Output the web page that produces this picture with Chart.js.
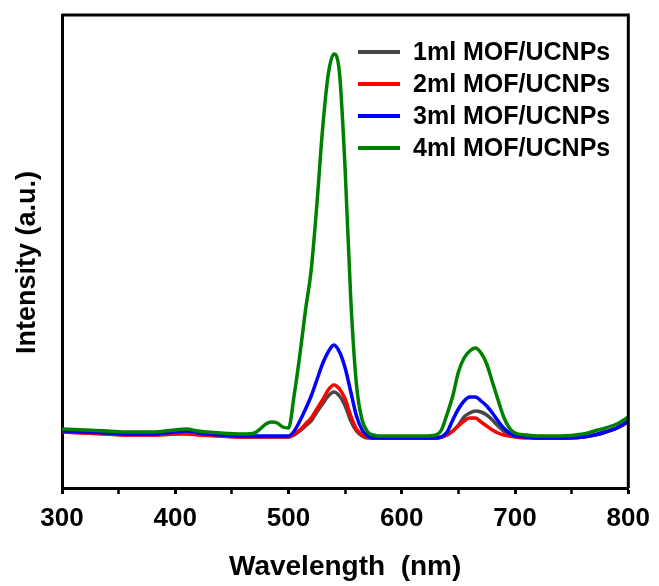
<!DOCTYPE html>
<html>
<head>
<meta charset="utf-8">
<script src="https://cdn.jsdelivr.net/npm/chart.js@4"></script>
<style>
  html, body { margin: 0; padding: 0; background: #fff; }
</style>
</head>
<body>
<canvas id="myChart" width="659" height="586"></canvas>
<script>
let wavelengths = [
    300, 320, 340, 360, 380, 400, 410, 420, 440, 460, 470, 475, 480, 485, 490, 495,
    500, 505, 510, 515, 520, 525, 530, 535, 540, 545, 550, 555, 560, 565, 570, 575,
    580, 600, 620, 630, 635, 640, 645, 650, 655, 660, 665, 670, 675, 680, 685, 690,
    695, 700, 710, 720, 740, 760, 770, 780, 790, 800
];

let labels = [
    '1ml MOF/UCNPs',
    '2ml MOF/UCNPs',
    '3ml MOF/UCNPs',
    '4ml MOF/UCNPs',
];

let colors = [
    '#474747',
    '#ff0000',
    '#0000ff',
    '#008000',
];

let ml1 = [
    56, 55, 54, 53, 53, 54, 55, 54, 52, 51, 51, 51, 51, 51, 51, 51,
    51, 53, 57, 62, 67, 76, 84, 92, 96, 92, 82, 67, 57, 52, 50, 50,
    50, 50, 50, 50, 51, 53, 57, 63, 71, 75, 77, 76, 73, 68, 62, 57,
    54, 52, 51, 50, 50, 51, 53, 56, 60, 66
];

let ml2 = [
    56, 55, 54, 53, 53, 54, 54, 53, 52, 51, 51, 51, 51, 51, 51, 51,
    51, 54, 58, 64, 70, 79, 88, 98, 103, 99, 89, 72, 59, 53, 51, 50,
    50, 50, 50, 50, 51, 53, 57, 62, 67, 70, 70, 66, 62, 58, 55, 53,
    52, 51, 50, 50, 50, 51, 53, 56, 60, 66
];

let ml3 = [
    57, 56, 55, 54, 54, 56, 57, 55, 53, 52, 52, 52, 52, 52, 52, 52,
    52, 57, 67, 79, 92, 108, 124, 136, 143, 136, 120, 96, 72, 58, 52, 50,
    50, 50, 50, 50, 51, 56, 68, 79, 87, 91, 91, 87, 82, 75, 67, 60,
    55, 52, 51, 50, 50, 51, 53, 56, 60, 67
];

let ml4 = [
    59, 58, 57, 56, 56, 58, 59, 57, 55, 54, 55, 59, 64, 66, 65, 61,
    60, 93, 133, 178, 218, 283, 358, 413, 434, 415, 318, 188, 103, 68, 56, 53,
    52, 52, 52, 53, 58, 74, 92, 116, 130, 137, 140, 135, 124, 106, 88, 71,
    60, 55, 53, 52, 52, 54, 57, 60, 64, 71
];

let series = [ml1, ml2, ml3, ml4];

let fontFamily = '"Liberation Sans", Arial, sans-serif';

// top and right edges of the box, the y title and the legend in the upper right
let framePlugin = {
    id: 'frame',
    afterDraw(chart) {
        let ctx = chart.ctx;
        let a = chart.chartArea;
        ctx.save();
        ctx.strokeStyle = '#000';
        ctx.lineWidth = 3;
        ctx.beginPath();
        ctx.moveTo(a.left, a.top);
        ctx.lineTo(a.right, a.top);
        ctx.lineTo(a.right, a.bottom);
        ctx.stroke();

        // y axis title, sitting a little below the middle of the axis
        ctx.save();
        ctx.translate(28, (a.top + a.bottom) / 2 + 11);
        ctx.rotate(-Math.PI / 2);
        ctx.font = 'bold 27px ' + fontFamily;
        ctx.fillStyle = '#000';
        ctx.textAlign = 'center';
        ctx.textBaseline = 'middle';
        ctx.fillText('Intensity (a.u.)', 0, 0);
        ctx.restore();

        ctx.font = 'bold 25px ' + fontFamily;
        ctx.textBaseline = 'middle';
        ctx.textAlign = 'left';
        labels.forEach((label, i) => {
            let y = a.top + 37 + i * 32;
            ctx.strokeStyle = colors[i];
            ctx.lineWidth = 4;
            ctx.beginPath();
            ctx.moveTo(a.left + 296, y);
            ctx.lineTo(a.left + 338, y);
            ctx.stroke();
            ctx.fillStyle = '#000';
            ctx.fillText(label, a.left + 351, y + 1);
        });
        ctx.restore();
    }
};

let myChart = document.getElementById('myChart').getContext('2d');

let chart = new Chart(myChart, {
    type: 'line',
    data: {
        datasets: series.map((values, i) => ({
            label: labels[i],
            data: wavelengths.map((w, j) => ({ x: w, y: values[j] })),
            borderColor: colors[i],
            borderWidth: 3.5,
            pointRadius: 0,
            cubicInterpolationMode: 'monotone',
            order: 3 - i,
        }))
    },
    options: {
        responsive: false,
        animation: false,
        layout: {
            padding: { top: 15, right: 29, left: 0, bottom: 0 }
        },
        plugins: {
            legend: { display: false },
            tooltip: { enabled: false }
        },
        scales: {
            x: {
                type: 'linear',
                min: 300,
                max: 800,
                afterFit: (scale) => { scale.height = 98; },
                border: { display: true, color: '#000', width: 3 },
                grid: {
                    drawOnChartArea: false,
                    drawTicks: true,
                    tickLength: 6,
                    tickWidth: (ctx) => ctx.tick && ctx.tick.value % 100 === 0 ? 3 : 2.5,
                    tickColor: '#000'
                },
                ticks: {
                    stepSize: 50,
                    autoSkip: false,
                    maxRotation: 0,
                    padding: 9,
                    color: '#000',
                    font: { family: fontFamily, size: 26, weight: 'bold' },
                    callback: (v) => v % 100 === 0 ? v : ''
                },
                title: {
                    display: true,
                    text: 'Wavelength  (nm)',
                    color: '#000',
                    padding: { top: 4, bottom: 2 },
                    font: { family: fontFamily, size: 28, weight: 'bold' }
                }
            },
            y: {
                min: 0,
                max: 473,
                afterFit: (scale) => { scale.width = 62; },
                border: { display: true, color: '#000', width: 3 },
                grid: { drawOnChartArea: false, drawTicks: false },
                ticks: { display: false }
            }
        }
    },
    plugins: [framePlugin]
});
</script>
</body>
</html>
